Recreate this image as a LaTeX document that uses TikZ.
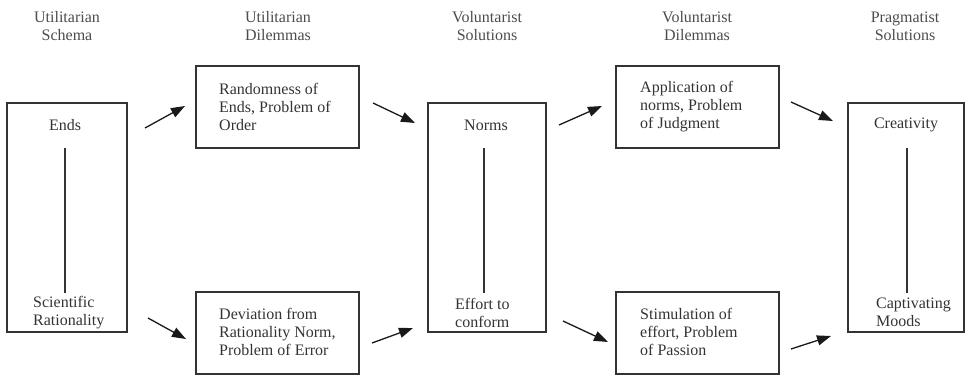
\documentclass[tikz,border=0pt]{standalone}
\usepackage{fontspec}
\setmainfont{Liberation Serif}
\usetikzlibrary{arrows.meta,calc}
\begin{document}
\begin{tikzpicture}[x=1pt,y=-1pt,
  box/.style={draw=black!80,line width=1.3pt,inner sep=0pt},
  txt/.style={font=\fontsize{16}{18}\selectfont,text=black!80,inner sep=0pt,align=left},
  head/.style={font=\fontsize{16}{18}\selectfont,text=black!70,inner sep=0pt,align=center},
  arr/.style={draw=black!90,line width=1.3pt,-{Triangle[length=14pt,width=10pt]}},
  link/.style={draw=black!80,line width=1.3pt}]
\useasboundingbox (0,0) rectangle (965,375);
% headers
\node[head] (h1) at (67,26) {Utilitarian\\Schema};
\node[head] (h2) at (278,26) {Utilitarian\\Dilemmas};
\node[head] (h3) at (487,26) {Voluntarist\\Solutions};
\node[head] (h4) at (697,26) {Voluntarist\\Dilemmas};
\node[head] (h5) at (905,26) {Pragmatist\\Solutions};
% big boxes
\node[box,minimum width=120pt,minimum height=229pt] (b1) at (67,217.5) {};
\node[box,minimum width=118pt,minimum height=229pt] (b3) at (487,217.5) {};
\node[box,minimum width=116pt,minimum height=229pt] (b5) at (906,217.5) {};
% small boxes
\node[box,minimum width=163pt,minimum height=82pt] (b2t) at (277.5,107) {};
\node[box,minimum width=163pt,minimum height=82pt] (b2b) at (277.5,333) {};
\node[box,minimum width=163pt,minimum height=82pt] (b4t) at (697.5,107) {};
\node[box,minimum width=163pt,minimum height=82pt] (b4b) at (697.5,333) {};
% texts in small boxes
\node[txt,anchor=west] (t2t) at (219,107) {Randomness of\\Ends, Problem of\\Order};
\node[txt,anchor=west] (t2b) at (219,332) {Deviation from\\Rationality Norm,\\Problem of Error};
\node[txt,anchor=west] (t4t) at (640,107) {Application of\\norms, Problem\\of Judgment};
\node[txt,anchor=west] (t4b) at (640,332) {Stimulation of\\effort, Problem\\of Passion};
% texts in big boxes
\node[txt] (ends) at (65,125) {Ends};
\node[txt,anchor=west] (sci) at (33,312.5) {Scientific\\Rationality};
\node[txt] (norms) at (486,125) {Norms};
\node[txt,anchor=west] (eff) at (455,312.5) {Effort to\\conform};
\node[txt] (crea) at (906,125) {Creativity};
\node[txt,anchor=west] (capt) at (876,312.5) {Captivating\\Moods};
% vertical links
\coordinate (l1a) at (65,148); \coordinate (l1b) at (65,293);
\coordinate (l3a) at (484,148); \coordinate (l3b) at (484,293);
\coordinate (l5a) at (907,148); \coordinate (l5b) at (907,293);
\draw[link] (l1a) -- (l1b);
\draw[link] (l3a) -- (l3b);
\draw[link] (l5a) -- (l5b);
% arrows
\coordinate (a1s) at (145,128); \coordinate (a1e) at (185,106);
\coordinate (a2s) at (373,103); \coordinate (a2e) at (415,123);
\coordinate (a3s) at (559,125); \coordinate (a3e) at (602,106);
\coordinate (a4s) at (791,102); \coordinate (a4e) at (833,121);
\coordinate (a5s) at (148,318); \coordinate (a5e) at (186,339);
\coordinate (a6s) at (372,343); \coordinate (a6e) at (413,328);
\coordinate (a7s) at (563,321); \coordinate (a7e) at (608,342);
\coordinate (a8s) at (791,349); \coordinate (a8e) at (831,336);
\foreach \i in {1,...,8} \draw[arr] (a\i s) -- (a\i e);
\end{tikzpicture}
\end{document}
